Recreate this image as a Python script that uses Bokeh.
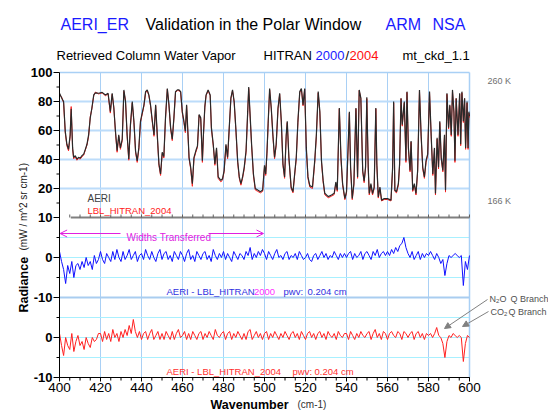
import math
from bokeh.plotting import figure
from bokeh.models import Range1d, Label, Arrow, OpenHead, NormalHead
from bokeh.core.properties import value
from bokeh.embed import file_html
from bokeh.resources import INLINE

# ---------------- data ----------------
aeri_wn = [400, 401.2, 402, 402.8, 403.6, 404.4, 405.2, 405.7, 406.4, 406.9, 407.7, 408.5, 409.3, 410.1,
           410.9, 411.8, 412.6, 413.4, 414.2, 415, 415.8, 416.7, 417.5, 419.1, 420.8, 422.4, 423.7, 424.8,
           425.7, 426.5, 427.3, 428.1, 428.9, 429.7, 430.6, 431.4, 432.2, 433, 433.8, 434.6, 435.5, 436.3,
           437.1, 437.9, 438.7, 439.5, 441.2, 442, 442.8, 443.6, 444.4, 445.3, 446.1, 446.9, 447.7, 448.5,
           449.3, 450.1, 450.9, 451.7, 452.6, 453.4, 454.2, 455, 455.8, 456.6, 457.5, 458.3, 459.1, 459.9,
           460.7, 461.4, 462, 462.7, 463.2, 464, 464.8, 465.6, 466.5, 467.3, 468.1, 468.9, 469.7, 470.2,
           470.9, 471.5, 472.5, 473.5, 474.1, 475, 475.8, 476.6, 477.4, 478.7, 479.5, 480.3, 481.2, 482,
           482.8, 483.6, 484.4, 485.2, 486.1, 486.9, 487.7, 488.5, 489.3, 490.1, 491, 491.8, 492.3, 492.9,
           493.7, 494.6, 495.5, 496.7, 498, 499.1, 500, 500.6, 501.2, 501.8, 502.5, 503.3, 504.1, 504.9,
           505.7, 506.6, 507.4, 508.2, 509, 509.8, 510.6, 511.1, 511.9, 513, 513.9, 514.7, 515.5, 516.3,
           517.2, 518, 518.8, 519.6, 520.4, 521.2, 522.1, 523.4, 524.5, 525.3, 526.2, 527, 527.8, 528.6,
           529.4, 531.1, 532.7, 534, 534.8, 535.5, 536.5, 537.3, 538.1, 539.2, 540, 541.4, 542, 542.8,
           543.6, 544.6, 545.4, 546.2, 547, 547.9, 548.6, 549.3, 549.9, 550.6, 551.1, 551.9, 552.7, 553.5,
           554.3, 554.8, 555.5, 556.3, 557.1, 558.4, 560, 561.7, 562.5, 563, 563.6, 564.4, 565.3, 565.9,
           566.6, 567.2, 568.2, 569, 569.5, 570.2, 571, 571.5, 572.3, 573.1, 573.9, 574.7, 575.6, 576.4,
           577.2, 578, 578.8, 579.6, 580.5, 581.3, 582.1, 582.9, 583.4, 584.2, 584.9, 585.5, 586.2, 587,
           587.8, 588.3, 589, 589.8, 590.4, 591.1, 591.7, 592.4, 592.9, 593.5, 594.4, 595.2, 595.7, 596.3,
           597, 597.6, 598.1, 598.8, 599.3, 599.7, 600]
aeri_rad = [85.7, 82, 80, 59.6, 50.5, 47, 57, 75, 48, 41.5, 42.6, 40.3, 41.5, 41,
            42.6, 43.7, 47, 50.5, 57, 68.7, 75.5, 84.5, 86, 85.7, 86.3, 84.5, 85.7, 73,
            85.7, 75.5, 59.6, 46, 57, 48, 54, 88, 80, 57, 40.3, 64, 80, 66.4,
            46, 39, 48, 66.4, 77.7, 86.8, 88, 84.5, 77.7, 66.4, 57, 77.7, 57, 37,
            30, 45, 42, 68.7, 89, 77.7, 62, 54, 68.7, 86.8, 88, 88, 86.8, 73,
            66.4, 59.6, 77.7, 57, 41.5, 34.6, 23.3, 41.5, 46, 49.4, 71, 68.7, 39.2, 57,
            76.6, 84.5, 88, 84.5, 62, 50.5, 37, 48, 28, 25.6, 26.7, 32.4, 50.5, 41.5,
            62, 82.3, 88, 80, 59.6, 39.2, 28, 23.3, 28, 34.6, 46, 73, 90, 73,
            50.5, 30, 20, 18.9, 17.8, 19, 36, 30, 45, 66, 89, 75.5, 57, 41.5,
            50.5, 75.5, 85.7, 66.4, 37, 28, 57, 66.4, 41.5, 21, 17.8, 30, 41.5, 66.4,
            86.8, 89, 77.7, 89, 48, 28, 22, 21, 39.2, 57, 86.8, 73, 39.2, 25.6,
            16.7, 14.4, 15.5, 16.7, 24.5, 18.8, 75.5, 41.5, 23.3, 13.1, 17.8, 73, 34.6, 13.1,
            23.3, 75.5, 28, 88, 82.3, 32.4, 25, 35, 83, 34.6, 16.5, 23.3, 16.5, 21,
            75.5, 37, 14.2, 21, 12, 13, 13, 12, 34.6, 80, 18.8, 17.8, 23.3, 37,
            82.3, 64, 80, 39.2, 86.8, 48, 32.4, 52.8, 18.8, 23.3, 16.5, 32.4, 88, 57,
            34.6, 28, 39.2, 43.7, 86.8, 57, 30, 48, 16.5, 55, 34.6, 66.4, 41.5, 32.4,
            57, 18.8, 85.7, 62, 77.7, 57, 88, 73, 39.2, 82.3, 57, 85.7, 50.5, 86.8,
            66.4, 82.3, 48, 80, 48, 73, 70]
lbl_rad = [85, 82.5, 79, 58.5, 49.5, 46, 56, 76.5, 47, 40.5, 41.8, 39.5, 40.8, 40.3,
           41.8, 43, 46.5, 50, 56, 69.5, 75, 84, 86.5, 85.2, 86, 84, 85.2, 72,
           85, 76, 58.5, 45, 56, 47, 53, 87, 80.5, 56, 39.5, 63, 79, 65.5,
           45, 38, 47, 65.5, 77, 86, 87.5, 84, 77, 65.5, 56, 77, 56, 36,
           29, 44, 41, 68, 88.5, 77, 61, 53, 68, 86.3, 87.5, 87.5, 86.3, 72,
           65.5, 58.5, 77, 56, 40.5, 33.5, 21.5, 40.5, 45, 48.5, 70.5, 68, 38, 56,
           76, 84, 87.5, 84, 61, 49.5, 36, 47, 27, 24.6, 25.7, 31.5, 49.5, 40.5,
           61, 82, 87.5, 79.5, 58.5, 38, 27, 22.3, 27, 33.5, 45, 72, 89, 72,
           49.5, 29, 19, 18, 17, 18, 35, 29, 44, 65, 88, 75, 56, 40.5,
           49.5, 75, 85, 65.5, 36, 27, 56, 65.5, 40.5, 20, 17, 29, 40.5, 65.5,
           86, 88.5, 77, 88.5, 47, 27, 21, 20, 38, 56, 86, 72, 38, 24.6,
           15.7, 13.6, 14.7, 15.8, 23.5, 18, 75, 40.5, 22.3, 12.3, 17, 72, 33.5, 12.3,
           22.3, 75, 27, 87.5, 82, 31.5, 24, 34, 82, 33.5, 15.5, 22.3, 15.5, 20,
           75, 36, 13.4, 20, 11.4, 12.4, 12.4, 11.4, 33.5, 79, 18, 17, 22.3, 36,
           82, 63, 79, 38, 86.3, 47, 31.5, 52, 18, 22.3, 15.5, 31.5, 87.5, 56,
           33.5, 27, 38, 43, 86.3, 56, 29, 47, 15.5, 54, 33.5, 65.5, 40.5, 31.5,
           56, 17.5, 85, 61, 77, 56, 87, 72, 38, 82, 56, 85, 49.5, 86,
           65.5, 82, 47, 79, 47, 72, 69]

res_wn = list(range(400, 601))
res_2000 = [1.5, -1, -3, -6.5, -2, -4, -1, -5, -2, -1.5,
            -3, -1, -2.5, 0, -2, -1, -3, 0.5, -1.5, -0.5,
            1.5, -0.5, -1.5, 1, 0, -1, 1.5, -0.5, 2, 0,
            -1, 1.5, -0.5, 0.5, 2, -0.5, 0.5, 1.5, -1, 0.5,
            1, -0.5, 2, 0.5, -0.5, 1.5, 0, -1, 1, 2,
            -0.5, 1, 1.5, -0.5, 0.5, -1, 1.5, 0.5, -0.5, 1.5,
            0.5, -1, 1, 2, -0.5, 0.5, -1, 1.5, 0.5, -0.5,
            1, 1.5, -0.5, 0.5, -1, 2, 0.5, -0.5, 1, 0,
            1.5, -0.5, 1, 0, -1, 1.5, 0.5, -0.5, 1, 0.5,
            -0.5, 1.5, 0.5, 2.5, -0.5, 1, 0, 1.5, 0.5, 2,
            1, -0.5, 1.5, 0.5, -0.5, 1, 2, 0, 0.5, -0.5,
            1, 1.5, -0.5, 0.5, 0, 1, -0.5, 1.5, 0.5, -0.5,
            0, 1, -0.5, -1, 0.5, 1, -0.5, 0.5, 1.5, 0,
            1, -0.5, 0.5, 0, 1.5, 0.5, -0.5, 1, 0, 1,
            0, 1, 1.5, -0.5, 1, 0, 0.5, 1.5, -0.5, 1,
            1.5, 0.5, -0.5, 1.5, 0.5, 2, 0, 1, 1.5, 0.5,
            1.5, 0.5, 2, 1, 2.5, 1.5, 3, 3.5, 5, 2.5,
            1, 0, 1.5, -0.5, 0.5, 1.5, -0.5, 1, 0, 1,
            0.5, 1.5, 0.5, -0.5, 1, 0, -1.5, -0.5, -4.5, -1.5,
            0.5, 0, 0.5, 1, 0.5, 0, 0.5, -7, -1, -3,
            0.5]
res_2004 = [1, -2, -4.5, 0, -2, -3, 1, -3.5, -1, 0.5,
            -2, -1, -3, 0, -1.5, -2.5, 0, -1, -0.5, 1,
            1, -1, 1.5, -0.5, 1, -1, 2, 0, 1, -1,
            1.5, 0, 2, 0.5, 3, 1, 4.5, 1.5, 0, 1.5,
            -0.5, 1, 1.5, -0.5, 1, 2, -0.5, 0.5, 1.5, -0.5,
            1, -0.5, 1.5, 0.5, -0.5, 1.5, -0.5, 1, 2, 0,
            0.5, 1.5, -0.5, 1, -0.5, 1.5, 0.5, -0.5, 1, 1.5,
            -0.5, 1, 0, 1.5, 0.5, -0.5, 2, 0.5, 0, 1,
            1.5, -0.5, 1, 1.5, -0.5, 1, 0, 1.5, 0.5, -0.5,
            1, -0.5, 1.5, 2, -0.5, 0.5, 1.5, 0, 1, -0.5,
            1, 1.5, -0.5, 1, 0, 1.5, 0.5, -0.5, 1, 0,
            1.5, 0.5, -0.5, 1, 1.5, 0, 1, -0.5, 1.5, 0.5,
            -0.5, 1, 1.5, 0, 1, -0.5, 1, 1.5, 0, 1,
            -0.5, 1.5, 0.5, 0, 1, -0.5, 1.5, 0.5, 0, 1,
            1, -0.5, 1.5, 0.5, -0.5, 1, 0, 1.5, 0.5, 0,
            1, 1.5, -0.5, 1, 2, 0, 1, -0.5, 1.5, 1,
            -0.5, 1, 1.5, 0.5, 0, 1.5, 1, -0.5, 1.5, 1,
            0, 1, 1.5, -0.5, 1, 1.5, 0, 1, -0.5, 1,
            0.5, 1, 0, 1, 2.5, 0.5, 0, -1.5, -5, -1,
            0.5, 0, 1, 0.5, 0, 0.5, 0, -6, -1.5, 0.5,
            0]

top_tick_vals = [100, 80, 60, 40, 20]
res_tick_vals = [0, -10]
x_ticks = list(range(400, 601, 20))

# ---------------- layout mapping ----------------
# The frame covers the whole canvas; 1 global-y unit = 1 screen px.
PXW = 2.05                   # px per wavenumber
L, B, T = 59, 377, 72        # left, bottom, top of the plot box (screen px)
TOP0, TOPS = 160, 1.45       # top panel: value v -> TOP0 + TOPS*v
MID0, BOT0, RS = 120, 40, 4  # residual panels: value v -> base + RS*v

def wx(px):   # screen x -> wavenumber
    return 400 + (px - L) / PXW

def gy(py):   # screen y -> global y
    return B - py

FONT = "Liberation Sans"
W, H = 548, 413

p = figure(width=W, height=H, x_range=Range1d(wx(0), wx(W)), y_range=Range1d(gy(H), gy(0)),
           output_backend="svg", toolbar_location=None, x_axis_type=None, y_axis_type=None,
           min_border=0)
p.xgrid.visible = False
p.ygrid.visible = False
p.outline_line_color = None
p.background_fill_color = "white"
p.border_fill_color = "white"

TOPG = gy(T)
# grid lines
GRID_BLUE = "#a9d0f5"
GRID_CYAN = "#a8f0ff"
gx = x_ticks[1:-1]
p.segment(x0=gx, y0=[0] * len(gx), x1=gx, y1=[TOPG] * len(gx), line_color=GRID_BLUE, line_width=1)
hg = [TOP0 + TOPS * v for v in (20, 40, 60, 80)]
p.segment(x0=[400] * 4, y0=hg, x1=[600] * 4, y1=hg, line_color="#bcdcfa", line_width=2)
cy = [base + RS * v for base in (MID0, BOT0) for v in (-5, 0, 5)]
p.segment(x0=[400] * len(cy), y0=cy, x1=[600] * len(cy), y1=cy, line_color=GRID_CYAN, line_width=1)
p.segment(x0=[400], y0=[MID0 - RS * 10], x1=[600], y1=[MID0 - RS * 10], line_color="#a9cdf0", line_width=2)
# box outline (top and right, light blue)
p.segment(x0=[400, 600], y0=[TOPG, 0], x1=[600, 600], y1=[TOPG, TOPG], line_color=GRID_BLUE, line_width=1.5)

# separator axis of the top panel (gray, with small ticks)
sep_ticks = list(range(405, 601, 5))
p.segment(x0=[405.5], y0=[TOP0], x1=[600], y1=[TOP0], line_color="#808080", line_width=2)
p.segment(x0=sep_ticks, y0=[TOP0] * len(sep_ticks), x1=sep_ticks, y1=[TOP0 + 3] * len(sep_ticks),
          line_color="#606060", line_width=1)

# spectra
p.line(aeri_wn, [TOP0 + TOPS * v for v in lbl_rad], line_color="#ff2020", line_width=1)
p.line(aeri_wn, [TOP0 + TOPS * v for v in aeri_rad], line_color="#2a2a2a", line_width=1.2)
p.line(res_wn, [MID0 + RS * v for v in res_2000], line_color="#1010ff", line_width=1)
p.line(res_wn, [BOT0 + RS * v for v in res_2004], line_color="#ff2020", line_width=1)

# ---- axes drawn by hand ----
# y axis
y_major = [TOP0 + TOPS * v for v in top_tick_vals] + [TOP0] + [MID0 + RS * v for v in res_tick_vals] + [BOT0 + RS * v for v in res_tick_vals]
y_labels = [str(v) for v in top_tick_vals] + ["10"] + [str(v) for v in res_tick_vals] * 2
y_minor = [TOP0 + TOPS * v for v in (90, 70, 50, 30, 10)] + [MID0 + RS * 5, MID0 - RS * 5, BOT0 + RS * 5, BOT0 - RS * 5]
p.segment(x0=[400], y0=[0], x1=[400], y1=[TOPG], line_color="black", line_width=1)
p.segment(x0=[400] * len(y_major), y0=y_major, x1=[400 - 6 / PXW] * len(y_major), y1=y_major, line_color="black")
p.segment(x0=[400] * len(y_minor), y0=y_minor, x1=[400 - 3 / PXW] * len(y_minor), y1=y_minor, line_color="black")
p.text(x=[400 - 7 / PXW] * len(y_major), y=y_major, text=y_labels, text_font=value(FONT),
       text_font_size="13px", text_font_style="bold", text_color="black",
       text_align="right", text_baseline="middle")
# x axis
x_minor = list(range(400, 601, 5))
p.segment(x0=[400], y0=[0], x1=[600], y1=[0], line_color="black", line_width=1)
p.segment(x0=x_ticks, y0=[0] * len(x_ticks), x1=x_ticks, y1=[-4] * len(x_ticks), line_color="black")
p.segment(x0=x_minor, y0=[0] * len(x_minor), x1=x_minor, y1=[-3] * len(x_minor), line_color="black")
p.text(x=x_ticks, y=[gy(382)] * len(x_ticks), text=[str(t) for t in x_ticks], text_font=value(FONT),
       text_font_size="13.5px", text_color="black", text_align="center", text_baseline="top")

def lab(px, py, text, size, color="black", style="normal", align="left", baseline="alphabetic", angle=0):
    p.add_layout(Label(x=wx(px), y=gy(py), text=text, text_font=FONT, text_font_size=f"{size}px",
                       text_color=color, text_font_style=style, text_align=align,
                       text_baseline=baseline, angle=angle))

# titles
BLUE = "#1a1aff"
lab(60, 24, "AERI_ER", 16, BLUE)
lab(145, 24, "Validation in the Polar Window", 16)
lab(385, 24, "ARM", 16, BLUE)
lab(432, 24, "NSA", 16, BLUE)
lab(56, 55, "Retrieved Column Water Vapor", 13)
lab(263, 55, "HITRAN", 13)
lab(315, 55, "2000", 13, BLUE)
lab(345, 55, "/", 13)
lab(349, 55, "2004", 13, "#ff1010")
lab(402, 55, "mt_ckd_1.1", 13)

# axis titles
lab(23, 312, "Radiance", 12.5, style="bold", angle=math.pi / 2)
lab(23, 250, "(mW / m^2 sr cm-1)", 10, "#202020", angle=math.pi / 2)
lab(210, 404, "Wavenumber", 12.5, style="bold")
lab(297, 404, "(cm-1)", 10, "#303030")

# in-plot texts
lab(87, 198, "AERI", 10, "#404040")
lab(87, 210, "LBL_HITRAN_2004", 9.5, "#ff2020")
lab(126, 237, "Widths Transferred", 10, "#e020e0")
lab(166, 291, "AERI - LBL_HITRAN", 9.5, "#3030e0")
lab(253.5, 291, "2000", 9.5, "#ff30ff")
lab(283, 291, "pwv:", 9.5, "#3030e0")
lab(307, 291, "0.204 cm", 9.5, "#3030e0")
lab(166, 371, "AERI - LBL_HITRAN_2004", 9.5, "#ff3030")
lab(292, 371, "pwv:", 9.5, "#ff3030")
lab(314, 371, "0.204 cm", 9.5, "#ff3030")
lab(487, 80, "260 K", 9, "#707070")
lab(487, 200, "166 K", 9, "#707070")
lab(489, 298, "N", 9, "#505050")
lab(495.5, 300, "2", 6, "#505050")
lab(499, 298, "O", 9, "#505050")
lab(510, 298, "Q Branch", 9, "#505050")
lab(490, 311, "CO", 9, "#505050")
lab(503.5, 313, "2", 6, "#505050")
lab(508, 311, "Q Branch", 9, "#505050")

# arrows
MAG = "#e020e0"
p.add_layout(Arrow(x_start=wx(120), y_start=gy(233), x_end=400.3, y_end=gy(233), line_color=MAG, line_width=1,
                   end=OpenHead(size=7, line_color=MAG, line_width=1)))
p.add_layout(Arrow(x_start=wx(208), y_start=gy(233), x_end=wx(263), y_end=gy(233), line_color=MAG, line_width=1,
                   end=OpenHead(size=7, line_color=MAG, line_width=1)))
GR = "#808080"
p.add_layout(Arrow(x_start=wx(487), y_start=gy(299), x_end=wx(444), y_end=gy(328), line_color=GR, line_width=1,
                   end=NormalHead(size=6, fill_color=GR, line_color=GR)))
p.add_layout(Arrow(x_start=wx(488), y_start=gy(311), x_end=wx(462), y_end=gy(326), line_color=GR, line_width=1,
                   end=NormalHead(size=6, fill_color=GR, line_color=GR)))

open("out.html", "w").write(file_html(p, INLINE))
